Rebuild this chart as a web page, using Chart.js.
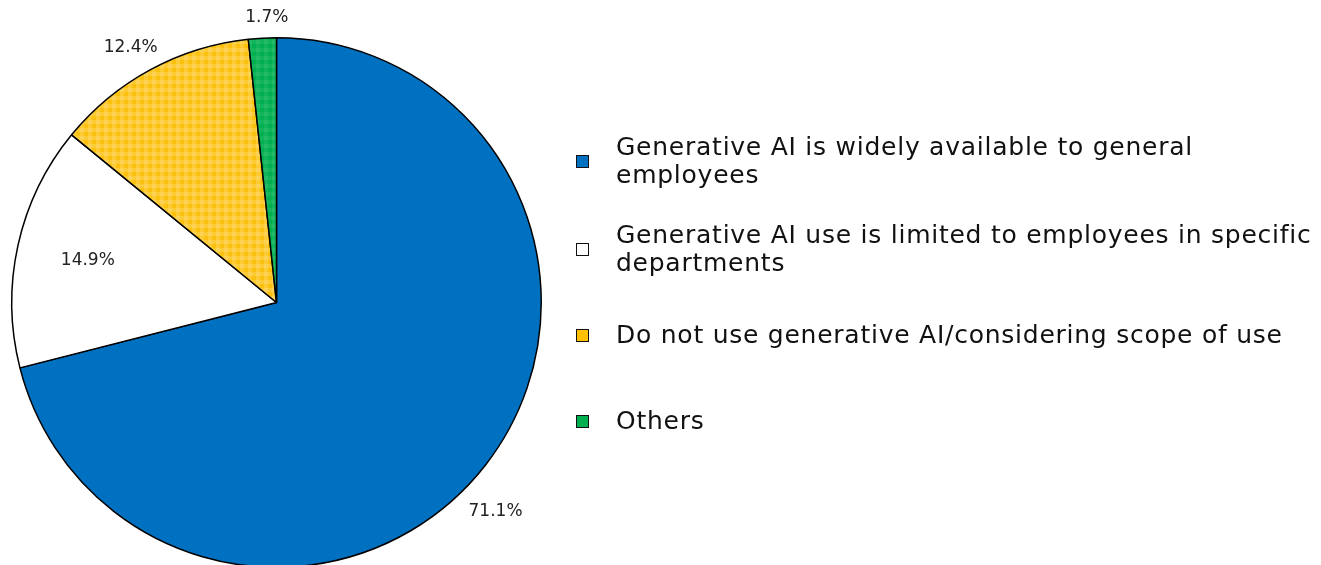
<!DOCTYPE html>
<html>
<head>
<meta charset="utf-8">
<script src="https://cdn.jsdelivr.net/npm/chart.js@4.4.1/dist/chart.umd.min.js"></script>
<style>
  html, body { margin: 0; padding: 0; background: #fff; overflow: hidden; }
  #wrap { position: relative; width: 1321px; height: 565px; overflow: hidden; }
  #legend {
    position: absolute; left: 576px; top: 0; width: 745px;
    font-family: "DejaVu Sans", sans-serif;
    font-size: 25px; line-height: 28px; letter-spacing: 0.75px; color: #111;
  }
  #legend .item { position: absolute; left: 0; display: flex; align-items: center; transform: translateY(-50%); white-space: nowrap; }
  #legend .box { width: 13px; height: 13px; border: 1.3px solid #111; box-sizing: border-box; margin-right: 27px; flex: none; }
</style>
</head>
<body>
<div id="wrap">
  <canvas id="share" width="1321" height="600"></canvas>
  <div id="legend"></div>
</div>
<script>
var labels = [
  ["Generative AI is widely available to general", "employees"],
  ["Generative AI use is limited to employees in specific", "departments"],
  ["Do not use generative AI/considering scope of use"],
  ["Others"]
];
var shares = [71.1, 14.9, 12.4, 1.7];
var shareText = ["71.1%", "14.9%", "12.4%", "1.7%"];

// plaid fill for the checked slices: light bands crossing both ways
function plaid(base, light) {
  var c = document.createElement("canvas");
  c.width = 8; c.height = 8;
  var g = c.getContext("2d");
  g.fillStyle = base;
  g.fillRect(0, 0, 8, 8);
  g.fillStyle = light;
  g.fillRect(0, 0, 4, 8);
  g.fillRect(0, 0, 8, 4);
  return g.createPattern(c, "repeat");
}

var ctx = document.getElementById("share").getContext("2d");
var fills = [
  "#0070C0",
  "#FFFFFF",
  plaid("#FCC10F", "rgba(255,255,255,0.16)"),
  plaid("#00B050", "rgba(255,255,255,0.07)")
];
var swatch = ["#0070C0", "#FFFFFF", "#FFC000", "#00B050"];

// label placement: distance as a share of the radius, and how far along the slice
var labelRadius = [1.145, 0.73, 1.11, 1.075];
var labelAlong = [0.523, 0.5, 0.47, 0.68];

var pctLabels = {
  id: "pctLabels",
  afterDatasetsDraw: function (chart) {
    var c = chart.ctx;
    var arcs = chart.getDatasetMeta(0).data;
    c.save();
    c.font = "17px Verdana, 'DejaVu Sans', sans-serif";
    c.fillStyle = "#222";
    c.textAlign = "center";
    c.textBaseline = "middle";
    arcs.forEach(function (a, i) {
      var ang = a.startAngle + (a.endAngle - a.startAngle) * labelAlong[i];
      var r = a.outerRadius * labelRadius[i];
      c.fillText(shareText[i], a.x + Math.cos(ang) * r, a.y + Math.sin(ang) * r);
    });
    c.restore();
  }
};

new Chart(ctx, {
  type: "pie",
  data: {
    labels: labels.map(function (l) { return l.join(" "); }),
    datasets: [{
      data: shares,
      backgroundColor: fills,
      borderColor: "#000",
      borderWidth: 1.5
    }]
  },
  options: {
    responsive: false,
    animation: false,
    layout: { padding: { left: 11, right: 779, top: 37, bottom: 32 } },
    plugins: {
      legend: { display: false },
      tooltip: { enabled: false }
    }
  },
  plugins: [pctLabels]
});

// legend on the right
var legendY = [161, 249, 335, 421];
var leg = document.getElementById("legend");
labels.forEach(function (l, i) {
  var item = document.createElement("div");
  item.className = "item";
  item.style.top = legendY[i] + "px";
  var box = document.createElement("div");
  box.className = "box";
  box.style.background = swatch[i];
  var txt = document.createElement("div");
  txt.innerHTML = l.join("<br>");
  item.appendChild(box);
  item.appendChild(txt);
  leg.appendChild(item);
});
</script>
</body>
</html>
